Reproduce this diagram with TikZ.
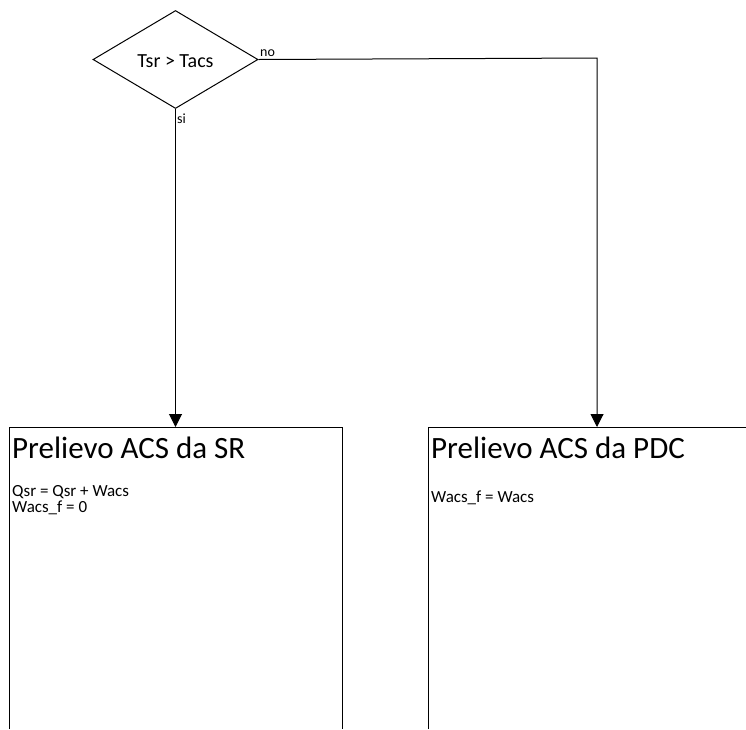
\documentclass[tikz,border=0pt]{standalone}
\usepackage{fontspec}
\setmainfont{Carlito}
\usetikzlibrary{shapes.geometric,arrows.meta}
\begin{document}
\begin{tikzpicture}[x=1pt,y=-1pt,
  line/.style={draw=black,line width=1pt},
  arr/.style={line,-{Triangle[width=13pt,length=13pt]}},
  decision/.style={diamond,draw=black,line width=1pt,minimum width=165pt,minimum height=98pt,inner sep=0pt},
  dectext/.style={font=\fontsize{20}{24}\selectfont,inner sep=0pt},
  small/.style={font=\fontsize{14}{16}\selectfont,inner sep=0pt,anchor=base west},
  title/.style={font=\fontsize{31}{34}\selectfont,inner sep=0pt,anchor=base west},
  body/.style={font=\fontsize{17}{16}\selectfont,inner sep=0pt,anchor=base west}]
\useasboundingbox (0,0) rectangle (746,729);
\node[decision] (dec) at (175.5,59.5) {};
\node[dectext] (dect) at (175.5,61) {Tsr > Tacs};
\coordinate (srtop) at (175.5,427);
\coordinate (pdctop) at (597,427);
\coordinate (turn) at (597,58);
% boxes (cut off by the picture edge)
\draw[line] (9.5,729) -- (9.5,427) -- (342.5,427) -- (342.5,729);
\draw[line] (428.5,729) -- (428.5,427) -- (746,427);
\node[title] (t1) at (12,458) {Prelievo ACS da SR};
\node[body] (b1) at (12,496) {Qsr = Qsr + Wacs};
\node[body] (b1b) at (12,512) {Wacs\_f = 0};
\node[title] (t2) at (431,458) {Prelievo ACS da PDC};
\node[body] (b2) at (431,502) {Wacs\_f = Wacs};
% connectors
\draw[arr] (dec.south) -- (srtop);
\draw[arr] (dec.east) -- (turn) -- (pdctop);
\node[small] (no) at (260,56) {no};
\node[small] (si) at (177,123) {si};
\end{tikzpicture}
\end{document}
